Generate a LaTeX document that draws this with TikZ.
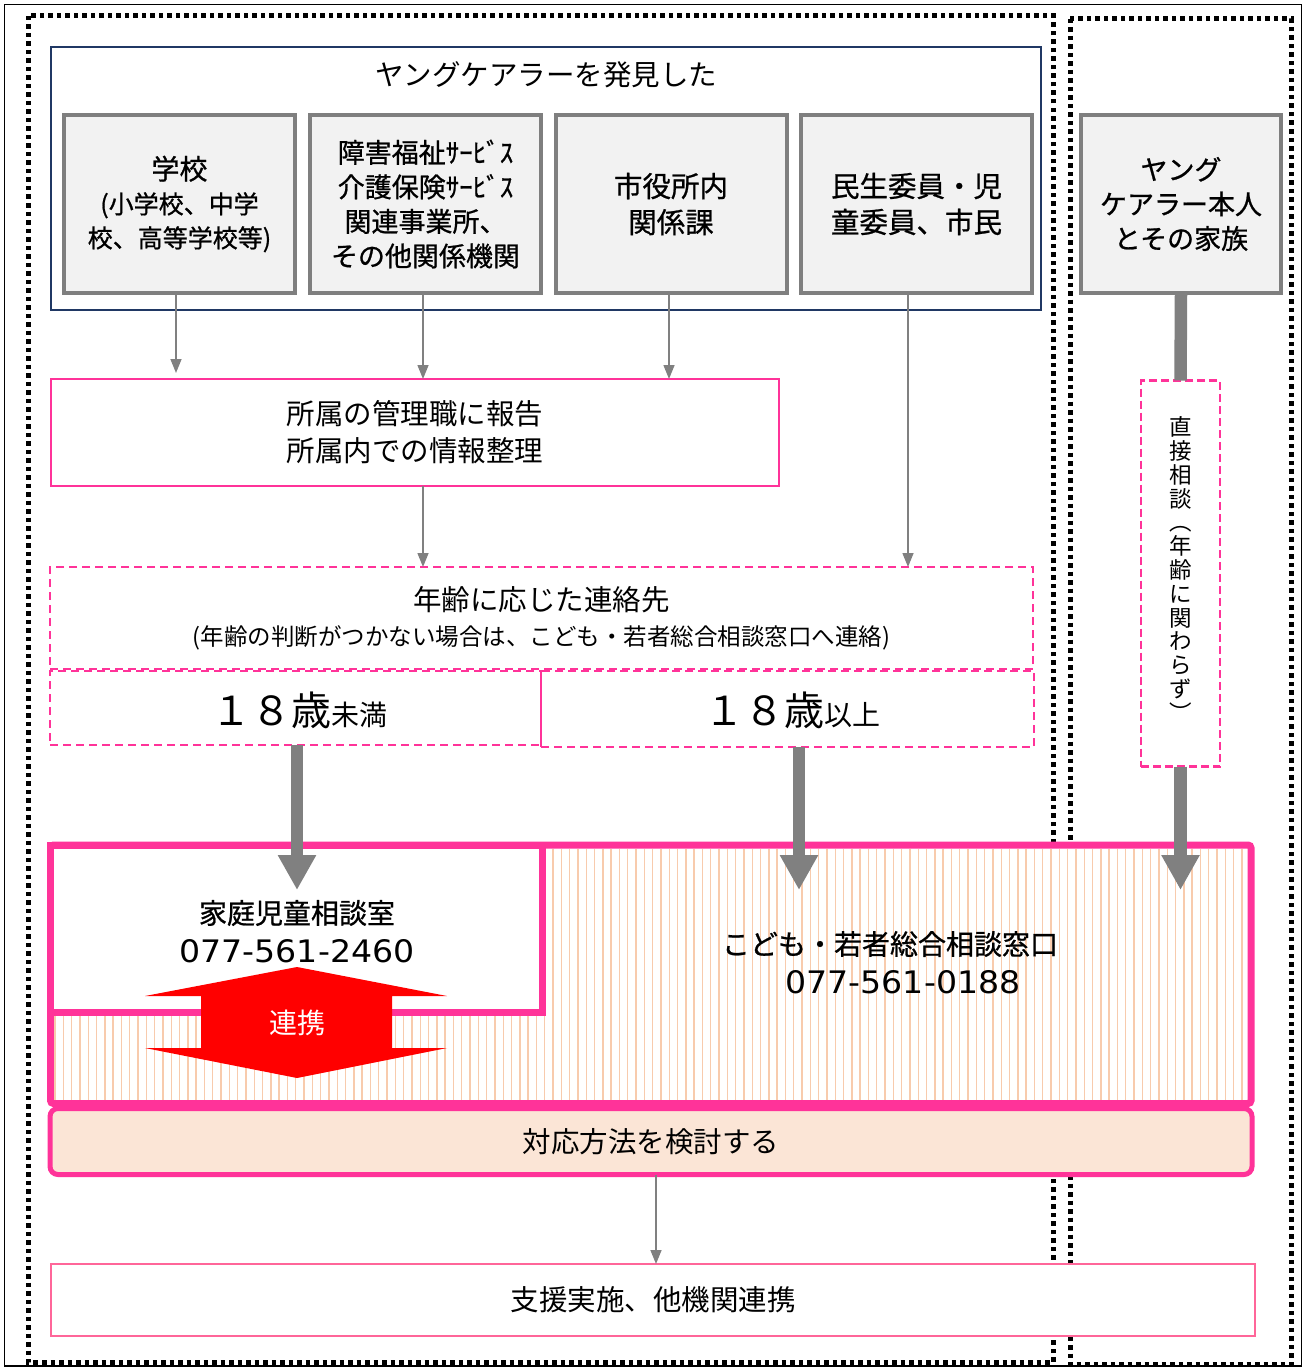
\documentclass[tikz,border=0pt]{standalone}
\usepackage{fontspec}
\usepackage{graphicx}
\setmainfont{Noto Sans CJK JP}
\newfontfamily\jp{Noto Sans CJK JP}
\newfontfamily\jpb[FakeBold=0.8]{Noto Sans CJK JP}
\newfontfamily\numf{DejaVu Sans}
\usetikzlibrary{arrows.meta}
\newcommand\myfs[2]{\fontsize{#1pt}{#2pt}\selectfont}
\definecolor{pk}{HTML}{FF3399}
\definecolor{pkl}{HTML}{FF6699}
\definecolor{navy}{HTML}{203864}
\definecolor{gbd}{HTML}{7F7F7F}
\definecolor{gfill}{HTML}{F2F2F2}
\definecolor{stripec}{HTML}{F8CBAD}
\definecolor{peach}{HTML}{FBE5D6}
\definecolor{arr}{HTML}{808080}
\begin{document}
\begin{tikzpicture}[x=1pt,y=-1pt,
  every node/.style={inner sep=0pt, outer sep=0pt},
  dots/.style={line width=5pt, dash pattern=on 4.5pt off 4pt},
  gbox/.style={draw=gbd, fill=gfill, line width=4pt, minimum height=178pt, align=center},
  pkdash/.style={draw=pk, line width=2pt, dash pattern=on 8pt off 5pt},
  tarrow/.style={draw=arr, line width=1.5pt, -{Triangle[width=11pt,length=14pt]}},
  barrow/.style={draw=arr, line width=12.5pt, -{Triangle[width=36pt,length=35pt]}},
  bline/.style={draw=arr, line width=12.5pt},
  txt/.style={font=\jp\myfs{28.5}{37}, align=center},
  btxt/.style={font=\jpb\myfs{28}{35}, align=center},
  numtxt/.style={font=\numf\myfs{31}{34}},
]
\useasboundingbox (0,0) rectangle (1306,1367);
% frames
\draw[line width=1.3pt] (4.5,4.5) rectangle (1301.5,1366);
\draw[dots] (28,16) rectangle (1053,1362);
\draw[dots] (1070,19) rectangle (1291,1364);

% discovery group
\node[draw=navy, line width=2pt, minimum width=990pt, minimum height=263pt] (find) at (546,178.5) {};
\node[txt] (findt) at (546,75) {ヤングケアラーを発見した};
\node[gbox, minimum width=231pt, font=\jpb\myfs{25}{34}] (b1) at (179.5,204)
  {{\myfs{28}{35}学校}\\(小学校、中学\\校、高等学校等)};
\node[gbox, minimum width=231pt, font=\jpb\myfs{27}{34.5}] (b2) at (425.5,204)
  {障害福祉ｻｰﾋﾞｽ\\介護保険ｻｰﾋﾞｽ\\関連事業所、\\その他関係機関};
\node[gbox, minimum width=231pt, font=\jpb\myfs{28.5}{36}] (b3) at (671,204)
  {市役所内\\関係課};
\node[gbox, minimum width=231pt, font=\jpb\myfs{28.5}{36}] (b4) at (916.5,204)
  {民生委員・児\\童委員、市民};
\node[gbox, minimum width=200pt, font=\jpb\myfs{27}{34.5}] (yc) at (1181,204)
  {ヤング\\ケアラー本人\\とその家族};

% report
\node[txt, draw=pk, line width=2.5pt, minimum width=728pt, minimum height=107pt] (rep) at (415,432.5)
  {所属の管理職に報告\\所属内での情報整理};

% age
\node[pkdash, minimum width=983pt, minimum height=102pt] (age) at (541.5,618) {};
\node[font=\jp\myfs{28.5}{30}] (aget) at (541.5,600) {年齢に応じた連絡先};
\node[font=\jp\myfs{23.5}{26}] (agen) at (541.5,638) {(年齢の判断がつかない場合は、こども・若者総合相談窓口へ連絡)};
\node[pkdash, minimum width=491pt, minimum height=74pt] (ageL) at (295.5,708) {};
\node[pkdash, minimum width=493pt, minimum height=76pt] (ageR) at (787.5,709) {};
\node[font=\jp] (ageLt) at (299,710) {{\myfs{40}{44}１８歳}{\myfs{28}{30}未満}};
\node[font=\jp] (ageRt) at (792,710) {{\myfs{40}{44}１８歳}{\myfs{28}{30}以上}};

% direct consultation
\node[pkdash, line width=2.5pt, dash pattern=on 8pt off 4pt, minimum width=79pt, minimum height=386pt] (direct) at (1180.5,573.5) {};
\node[font=\jp\myfs{22.5}{23.8}, align=center] (directt) at (1181,569)
  {直\\接\\相\\談\\︵\\年\\齢\\に\\関\\わ\\ら\\ず\\︶};

% big box
\node[draw=pk, fill=white, line width=7pt, rounded corners=3pt, minimum width=1200.5pt, minimum height=258.5pt] (kodomo) at (650.75,974.25) {};
\foreach \x in {55,63.3,...,1247} \draw[draw=stripec, line width=1.4pt] (\x,849) -- (\x,1100);
\node[draw=pk, fill=white, line width=7pt, minimum width=492pt, minimum height=167pt] (katei) at (296.5,928.5) {};

% thin arrows
\draw[tarrow] ([xshift=-3.5pt]b1.south) -- ([xshift=-3.5pt,yshift=6pt]b1.south |- rep.north);
\draw[tarrow] ([xshift=-2.5pt]b2.south) -- ([xshift=-2.5pt]b2.south |- rep.north);
\draw[tarrow] ([xshift=-2pt]b3.south) -- ([xshift=-2pt]b3.south |- rep.north);
\draw[tarrow] ([xshift=-8.5pt]b4.south) -- ([xshift=-8.5pt]b4.south |- age.north);
\draw[tarrow] ([xshift=8pt]rep.south) -- ([xshift=8pt]rep.south |- age.north);

% thick arrows
\draw[bline] (yc.south) -- (direct.north);
\draw[barrow] ([xshift=1.5pt]ageL.south) -- ([xshift=1.5pt,yshift=-45pt]ageL.south |- kodomo.north);
\draw[barrow] ([xshift=11.5pt]ageR.south) -- ([xshift=11.5pt,yshift=-45pt]ageR.south |- kodomo.north);
\draw[barrow] (direct.south) -- ([yshift=-45pt]direct.south |- kodomo.north);

% red double arrow
\fill[red] (297,967) -- (447,996) -- (392,996) -- (392,1048) -- (447,1048) -- (297,1078)
  -- (145,1048) -- (201,1048) -- (201,996) -- (145,996) -- cycle;
\node[font=\jp\myfs{28}{30}, text=white] (renkei) at (297,1023) {連携};

% texts in big box
\node[font=\jpb\myfs{28}{30}] (kateit) at (297,913) {家庭児童相談室};
\node[numtxt] (kateinum) at (297,951) {\scalebox{1.07}[1]{077-561-2460}};
\node[font=\jpb\myfs{28}{30}] (kodomot) at (890,944) {こども・若者総合相談窓口};
\node[numtxt] (kodomonum) at (903,982) {\scalebox{1.07}[1]{077-561-0188}};

% bottom
\node[txt, draw=pk, fill=peach, line width=5pt, rounded corners=8pt, minimum width=1202pt, minimum height=66pt] (taiou) at (651,1141.5) {対応方法を検討する};
\node[txt, draw=pkl, fill=white, line width=2.5pt, minimum width=1204pt, minimum height=72pt] (shien) at (653,1300) {支援実施、他機関連携};
\draw[tarrow] ([xshift=5pt]taiou.south) -- ([xshift=5pt]taiou.south |- shien.north);
\end{tikzpicture}
\end{document}
